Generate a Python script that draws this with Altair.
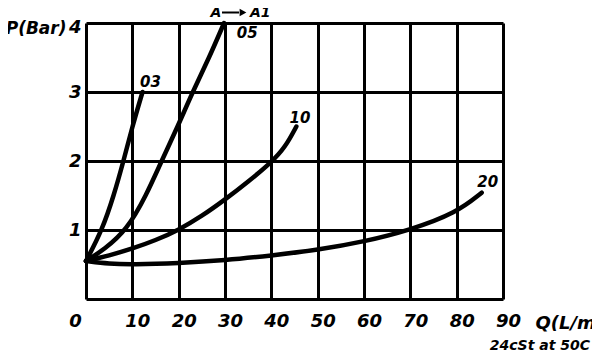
import altair as alt
import pandas as pd

# ---- data ----
q03 = [0, 3.5, 6.0, 8.1, 10.0, 12.2]
p03 = [0.55, 1.0, 1.5, 2.0, 2.5, 3.0]
q05 = [0, 4.0, 8.8, 13.0, 16.3, 19.8, 23.0, 26.6, 29.8]
p05 = [0.55, 0.72, 1.0, 1.5, 2.0, 2.5, 3.0, 3.5, 4.0]
q10 = [0, 5, 10, 15, 20, 25, 30, 35, 40, 43, 45.4]
p10 = [0.55, 0.63, 0.73, 0.85, 1.0, 1.2, 1.44, 1.7, 1.98, 2.2, 2.5]
q20 = [0, 5, 10, 20, 30, 40, 50, 60, 70, 80, 85.4]
p20 = [0.55, 0.51, 0.50, 0.52, 0.56, 0.63, 0.71, 0.83, 1.0, 1.25, 1.54]

curve_names = ["03", "05", "10", "20"]
label_q = [13.9, 34.8, 46.2, 86.7]
label_p = [3.14, 3.86, 2.62, 1.69]

x_ticks = [0, 10, 20, 30, 40, 50, 60, 70, 80, 90]
y_ticks = [0, 0.5, 1, 1.5, 2, 2.5, 3, 3.5, 4]

x_title = "Q(L/m)"
y_title = "P(Bar)"
note_text = "24cSt at 50C"
arrow_from = "A"
arrow_to = "A1"

FONT = "DejaVu Sans"

rows = []
for name, qs, ps in [("03", q03, p03), ("05", q05, p05), ("10", q10, p10), ("20", q20, p20)]:
    for q, p in zip(qs, ps):
        rows.append({"curve": name, "Q": q, "P": p})
curves_df = pd.DataFrame(rows)
labels_df = pd.DataFrame({"curve": curve_names, "Q": label_q, "P": label_p})

xscale = alt.Scale(domain=[0, 90], nice=False, zero=False)
yscale = alt.Scale(domain=[0, 4], nice=False, zero=False)

xaxis = alt.Axis(
    values=x_ticks, title=x_title, grid=True, ticks=False, domain=False,
    gridColor="black", gridWidth=3, gridOpacity=1,
    labelFont=FONT, labelFontSize=18, labelFontWeight="bold", labelFontStyle="oblique",
    labelColor="black", labelBaseline="middle", labelPadding=22,
    labelOffset={"condition": {"test": "datum.value == 0", "value": -11}, "value": 5},
    labelFlush=False, labelOverlap=False,
    titleFont=FONT, titleFontSize=18, titleFontWeight="bold", titleFontStyle="oblique",
    titleColor="black", titleAlign="left", titleBaseline="middle", titleX=449, titleY=24,
    titleAnchor="start",
)
yaxis = alt.Axis(
    values=y_ticks, title=y_title, grid=True, ticks=False, domain=False,
    gridColor="black", gridWidth=3, gridOpacity=1,
    labelExpr="(datum.value % 1 == 0 && datum.value > 0) ? ('' + datum.value) : ''",
    labelFont=FONT, labelFontSize=18, labelFontWeight="bold", labelFontStyle="oblique",
    labelColor="black", labelPadding=5, labelBaseline="middle", labelFlush=False,
    labelOverlap=False,
    labelOffset={"condition": {"test": "datum.value == 4", "value": 4}, "value": 0},
    titleFont=FONT, titleFontSize=17, titleFontWeight="bold", titleFontStyle="oblique",
    titleColor="black", titleAngle=0, titleAlign="right", titleBaseline="middle",
    titleX=-20, titleY=5,
)

lines = alt.Chart(curves_df).mark_line(
    color="black", strokeWidth=4.5, interpolate="basis", strokeCap="round"
).encode(
    x=alt.X("Q:Q", scale=xscale, axis=xaxis),
    y=alt.Y("P:Q", scale=yscale, axis=yaxis),
    detail="curve:N",
)

labels = alt.Chart(labels_df).mark_text(
    font=FONT, fontSize=15, fontWeight="bold", fontStyle="oblique", color="black",
    align="center", baseline="middle",
).encode(x=alt.X("Q:Q", scale=xscale), y=alt.Y("P:Q", scale=yscale), text="curve:N")

one = pd.DataFrame({"k": [0]})

txt_style = dict(font=FONT, fontWeight="bold", fontStyle="oblique", color="black", baseline="middle")
a_txt = alt.Chart(one).mark_text(text=arrow_from, fontSize=14, align="center", **txt_style).encode(
    x=alt.value(130), y=alt.value(-10.5))
a1_txt = alt.Chart(one).mark_text(text=arrow_to, fontSize=14, align="left", **txt_style).encode(
    x=alt.value(164), y=alt.value(-10.5))
a_rule = alt.Chart(one).mark_rule(color="black", strokeWidth=2).encode(
    x=alt.value(136), x2=alt.value(153), y=alt.value(-10.5))
a_head = alt.Chart(one).mark_point(shape="triangle-right", filled=True, color="black",
                                   size=60, opacity=1).encode(
    x=alt.value(157), y=alt.value(-10.5))
note = alt.Chart(one).mark_text(text=note_text, fontSize=14, align="right", **txt_style).encode(
    x=alt.value(504), y=alt.value(323))

chart = alt.layer(lines, labels, a_txt, a1_txt, a_rule, a_head, note).properties(
    width=417, height=276,
    autosize=alt.AutoSizeParams(type="none"),
    padding={"left": 78, "top": 15, "right": 89, "bottom": 55},
).configure_view(stroke="black", strokeWidth=3).configure(background="white")

chart.save("out.html", embed_options={"renderer": "svg", "actions": False})
